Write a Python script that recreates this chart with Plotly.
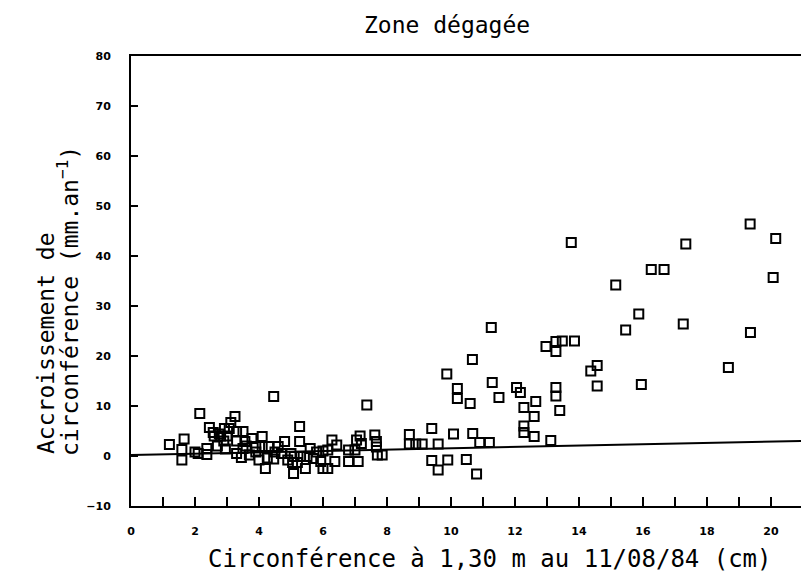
import plotly.graph_objects as go

# Data (circumference in cm, increment in mm/yr)
circ = [1.2, 1.66, 1.59, 1.59, 2.0, 2.15, 2.1, 2.37, 2.37, 2.45, 2.57, 2.76, 2.92, 3.07, 3.12, 3.25,
        3.3, 3.5, 2.6, 2.8, 3.0, 2.95, 2.7, 3.3, 3.45, 3.56, 3.78, 4.1, 3.9, 4.1, 4.3, 4.0, 4.26, 4.46,
        4.2, 4.6, 4.8, 4.7, 5.0, 4.9, 5.27, 5.27, 5.1, 5.3, 5.5, 5.08, 5.45, 5.05, 5.2, 5.7, 5.93, 6.0,
        6.15, 6.0, 6.15, 6.28, 6.43, 6.37, 6.8, 7.0, 6.8, 7.1, 7.05, 7.16, 7.2, 4.46, 7.37, 7.62, 7.67,
        7.7, 7.85, 7.67, 3.5, 3.7, 3.9, 2.9, 3.3, 3.6, 4.5, 5.8, 5.6,
        8.7, 8.7, 8.9, 9.1, 9.4, 9.6, 10.08, 10.68, 10.9, 11.2, 9.4, 9.6, 9.9, 10.48, 10.8, 9.87, 10.2,
        10.2, 10.6, 10.67, 11.26, 11.29, 11.5,
        12.05, 12.17, 12.28, 12.65, 12.6, 12.28, 12.28, 12.6, 13.12, 12.97, 13.28, 13.48, 13.28, 13.86,
        13.28, 13.28, 13.4, 13.76, 14.37, 14.57, 14.57,
        15.15, 15.46, 15.87, 15.95, 16.26, 16.66, 17.26, 17.34, 18.67, 19.35, 19.36, 20.07, 20.15]
accr = [2.3, 3.4, 1.3, -0.8, 0.8, 8.5, 0.5, 1.5, 0.3, 5.7, 4.7, 4.4, 5.5, 5.5, 6.7, 7.9,
        4.9, 4.9, 4.0, 4.0, 4.0, 1.4, 2.0, 0.5, -0.3, 2.9, 3.5, 3.9, 1.9, 1.9, 1.9, -0.8, -0.4, -0.6,
        -2.5, 1.9, 2.9, 0.5, 0.5, -0.8, 5.9, 2.9, -0.1, -0.1, -0.1, -3.5, -2.5, -1.3, -1.3, -0.5, -1.1, -2.5,
        -2.5, 1.0, 1.2, 3.2, 2.2, -1.1, 1.2, 1.2, -1.1, -1.1, 3.2, 4.0, 2.5, 11.9, 10.2, 4.2, 2.9,
        0.2, 0.2, 1.8, 1.5, 0.2, 0.8, 3.0, 3.0, 2.0, 0.8, 0.8, 1.5,
        4.3, 2.4, 2.4, 2.4, 5.5, 2.4, 4.4, 4.5, 2.7, 2.7, -0.9, -2.8, -0.8, -0.7, -3.6, 16.4, 13.5,
        11.5, 10.5, 19.3, 25.7, 14.7, 11.7,
        13.7, 12.7, 9.7, 10.9, 7.9, 6.0, 4.7, 3.9, 3.1, 21.9, 22.9, 23.0, 20.9, 23.0,
        13.7, 12.0, 9.1, 42.7, 17.0, 18.1, 14.0,
        34.2, 25.2, 28.4, 14.3, 37.3, 37.3, 26.4, 42.4, 17.7, 46.4, 24.7, 35.7, 43.5]

reg_x = [0, 20.94]
reg_y = [0.2, 3.0]

x_tickvals = list(range(0, 21, 2))
x_ticktext = [str(v) for v in x_tickvals]
y_tickvals = list(range(-10, 81, 10))
y_ticktext = ["−10"] + [str(v) for v in y_tickvals[1:]]

W, H = 801, 581
L, R, T, B = 131, 0, 56, 75

fig = go.Figure()
fig.add_trace(go.Scatter(x=reg_x, y=reg_y, mode="lines",
                         line=dict(color="black", width=2), showlegend=False))
fig.add_trace(go.Scatter(x=circ, y=accr, mode="markers",
                         marker=dict(symbol="square-open", size=9, color="black",
                                     line=dict(color="black", width=2)),
                         showlegend=False))

tickfont = dict(family="DejaVu Sans", size=11, color="black", weight="bold")
fig.update_xaxes(range=[0, 20.94], tickvals=x_tickvals, ticktext=x_ticktext,
                 ticks="inside", ticklen=9, tickwidth=2, tickcolor="black",
                 minor=dict(ticks="inside", dtick=1, tick0=0, ticklen=9, tickwidth=2,
                            tickcolor="black", showgrid=False),
                 showline=True, linecolor="black", linewidth=2, mirror=True, automargin=False,
                 showgrid=False, zeroline=False, tickfont=tickfont, ticklabelstandoff=14)
fig.update_yaxes(range=[-10, 80], tickvals=y_tickvals, ticktext=y_ticktext,
                 ticks="inside", ticklen=7, tickwidth=2, tickcolor="black",
                 showline=True, linecolor="black", linewidth=2, mirror=False, automargin=False,
                 showgrid=False, zeroline=False, tickfont=tickfont, ticklabelstandoff=16)

mono = "DejaVu Sans Mono"
pw, ph = W - L - R, H - T - B


def px_x(p):
    return (p - L) / pw


def px_y(p):
    return (H - B - p) / ph


fig.add_annotation(text="Zone dégagée", xref="paper", yref="paper",
                   x=px_x(447), y=px_y(25), xanchor="center", yanchor="middle",
                   showarrow=False, font=dict(family=mono, size=23, color="black"))
fig.add_annotation(text="Circonférence à 1,30 m au 11/08/84 (cm)", xref="paper", yref="paper",
                   x=px_x(490), y=px_y(559), xanchor="center", yanchor="middle",
                   showarrow=False, font=dict(family=mono, size=24, color="black"))
fig.add_annotation(text="Accroissement de",
                   xref="paper", yref="paper", textangle=-90,
                   x=px_x(46), y=px_y(456), xanchor="center", yanchor="bottom",
                   showarrow=False, font=dict(family=mono, size=23, color="black"))
fig.add_annotation(text="circonférence (mm.an<sup>−1</sup>)",
                   xref="paper", yref="paper", textangle=-90,
                   x=px_x(68), y=px_y(458), xanchor="center", yanchor="bottom",
                   showarrow=False, font=dict(family=mono, size=23, color="black"))

fig.update_layout(width=W, height=H, margin=dict(l=L, r=R, t=T, b=B),
                  paper_bgcolor="white", plot_bgcolor="white")
fig.write_html("out.html", config={"displayModeBar": False},
               post_script="document.body.style.margin='0px';document.body.style.overflow='hidden';")
